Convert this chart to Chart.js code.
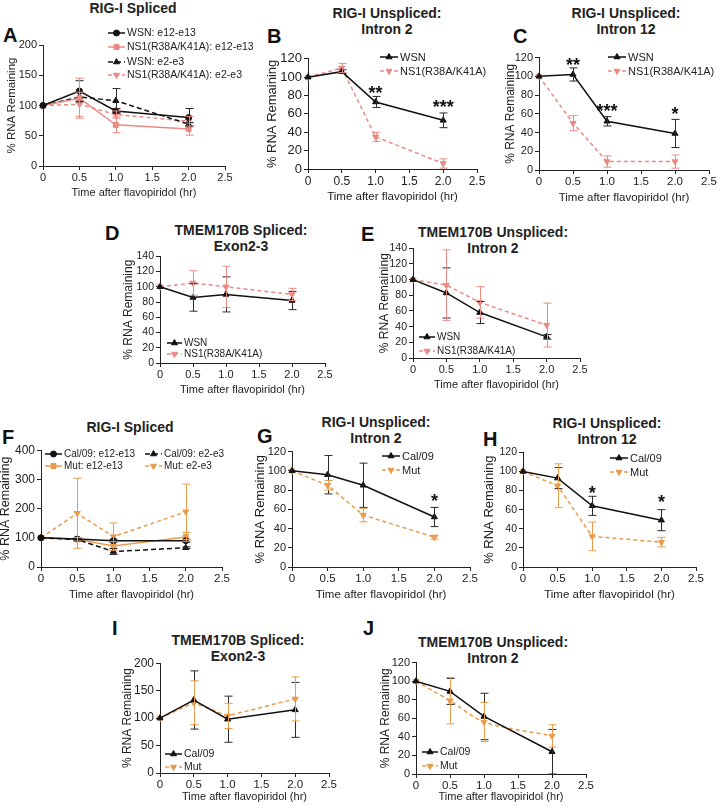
<!DOCTYPE html>
<html>
<head>
<meta charset="utf-8">
<script src="https://cdn.jsdelivr.net/npm/chart.js@4.4.1/dist/chart.umd.min.js"></script>
<style>
  body { margin: 0; background: #fff; overflow: hidden; }
  #page { position: relative; width: 720px; height: 806px; font-family: "Liberation Sans", Arial, Helvetica, sans-serif; color: #222; }
  #page canvas { position: absolute; }
  .ttl { position: absolute; font-weight: bold; font-size: 14px; line-height: 16px; text-align: center; transform: translateX(-50%); white-space: nowrap; }
  .lbl { position: absolute; font-weight: bold; font-size: 20px; line-height: 20px; color: #111; }
</style>
</head>
<body>
<div id="page">
  <div class="ttl" style="left:133px;top:0px">RIG-I Spliced</div>
  <div class="ttl" style="left:387px;top:5px">RIG-I Unspliced:<br>Intron 2</div>
  <div class="ttl" style="left:626px;top:5px">RIG-I Unspliced:<br>Intron 12</div>
  <div class="ttl" style="left:241px;top:222px">TMEM170B Spliced:<br>Exon2-3</div>
  <div class="ttl" style="left:493px;top:224px">TMEM170B Unspliced:<br>Intron 2</div>
  <div class="ttl" style="left:130px;top:419px">RIG-I Spliced</div>
  <div class="ttl" style="left:376px;top:414px">RIG-I Unspliced:<br>Intron 2</div>
  <div class="ttl" style="left:607px;top:415px">RIG-I Unspliced:<br>Intron 12</div>
  <div class="ttl" style="left:238px;top:632px">TMEM170B Spliced:<br>Exon2-3</div>
  <div class="ttl" style="left:493px;top:634px">TMEM170B Unspliced:<br>Intron 2</div>

  <div class="lbl" style="left:3px;top:25px">A</div>
  <div class="lbl" style="left:267px;top:26px">B</div>
  <div class="lbl" style="left:513px;top:26px">C</div>
  <div class="lbl" style="left:105px;top:223px">D</div>
  <div class="lbl" style="left:361px;top:224px">E</div>
  <div class="lbl" style="left:2px;top:427px">F</div>
  <div class="lbl" style="left:257px;top:426px">G</div>
  <div class="lbl" style="left:483px;top:429px">H</div>
  <div class="lbl" style="left:112px;top:618px">I</div>
  <div class="lbl" style="left:363px;top:618px">J</div>
</div>
<script>
'use strict';

// time points (hr)
const times = [0, 0.5, 1.0, 2.0];

// A: RIG-I spliced, WSN vs NS1 mutant
const aWsnE1213 = [100, 124, 91, 80];
const aWsnE1213Err = [0, 17, 4, 15];
const aNs1E1213 = [100, 112, 68, 61];
const aNs1E1213Err = [0, 33, 13, 10];
const aWsnE23 = [100, 114, 108, 69];
const aWsnE23Err = [0, 8, 20, 3];
const aNs1E23 = [100, 102, 85, 74];
const aNs1E23Err = [0, 20, 6, 8];

// B: RIG-I unspliced intron 2
const bWsn = [100, 106, 73, 53];
const bWsnErr = [0, 2, 6, 8];
const bNs1 = [100, 110, 35, 6];
const bNs1Err = [0, 5, 5, 5];
const bStars = [{x: 1.0, y: 87, t: '**'}, {x: 2.0, y: 72, t: '***'}];

// C: RIG-I unspliced intron 12
const cWsn = [100, 102, 52, 39];
const cWsnErr = [0, 7, 5, 15];
const cNs1 = [100, 50, 9, 9];
const cNs1Err = [0, 8, 6, 7];
const cStars = [{x: 0.5, y: 116, t: '**'}, {x: 1.0, y: 67, t: '***'}, {x: 2.0, y: 64, t: '*'}];

// D: TMEM170B spliced exon2-3
const dWsn = [100, 86, 90, 82];
const dWsnErr = [0, 18, 23, 12];
const dNs1 = [100, 105, 100, 90];
const dNs1Err = [0, 16, 27, 8];

// E: TMEM170B unspliced intron 2
const eWsn = [100, 83, 58, 27];
const eWsnErr = [0, 32, 14, 3];
const eNs1 = [100, 93, 71, 42];
const eNs1Err = [0, 45, 20, 28];

// F: RIG-I spliced, Cal/09 vs Mut
const fCalE1213 = [100, 96, 90, 90];
const fCalE1213Err = [0, 5, 5, 5];
const fCalE23 = [100, 94, 53, 66];
const fCalE23Err = [0, 4, 10, 3];
const fMutE1213 = [100, 95, 72, 103];
const fMutE1213Err = [0, 6, 15, 15];
const fMutE23 = [100, 184, 104, 189];
const fMutE23Err = [0, 120, 47, 95];

// G: RIG-I unspliced intron 2
const gCal = [100, 96, 85, 52];
const gCalErr = [0, 20, 23, 10];
const gMut = [100, 85, 54, 31];
const gMutErr = [0, 5, 7, 2];
const gStars = [{x: 2.0, y: 73, t: '*'}];

// H: RIG-I unspliced intron 12
const hCal = [100, 93, 64, 49];
const hCalErr = [0, 11, 10, 11];
const hMut = [100, 85, 32, 26];
const hMutErr = [0, 23, 15, 5];
const hStars = [{x: 1.0, y: 82, t: '*'}, {x: 2.0, y: 72, t: '*'}];

// I: TMEM170B spliced exon2-3
const iCal = [100, 133, 98, 115];
const iCalErr = [0, 53, 42, 50];
const iMut = [100, 128, 104, 135];
const iMutErr = [0, 40, 23, 40];

// J: TMEM170B unspliced intron 2
const jCal = [100, 89, 62, 24];
const jCalErr = [0, 14, 25, 24];
const jMut = [100, 79, 56, 41];
const jMutErr = [0, 25, 21, 12];

const BLACK = '#111111';
const SALMON = '#ea8a85';
const ORANGE = '#e99c4c';
const FONT = '"Liberation Sans", Arial, Helvetica, sans-serif';

const page = document.getElementById('page');

function series(label, values, errs, st) {
  return {
    label: label,
    err: errs,
    errColor: st.color === BLACK ? '#2a2a2a' : st.color,
    data: times.map((t, i) => ({x: t, y: values[i]})),
    borderColor: st.color,
    backgroundColor: st.color,
    borderWidth: 1.5,
    borderDash: st.dash || [],
    pointStyle: st.point,
    pointRadius: st.r || 3,
    pointRotation: st.rot || 0,
    pointBorderWidth: 1,
    pointHoverRadius: 0,
    tension: st.tension || 0,
    clip: false,
  };
}

function marker(ctx, ds, x, y) {
  ctx.fillStyle = ds.backgroundColor;
  ctx.strokeStyle = ds.borderColor;
  ctx.lineWidth = 1;
  Chart.helpers.drawPoint(ctx, {pointStyle: ds.pointStyle, rotation: ds.pointRotation, radius: ds.pointRadius, borderWidth: 1}, x, y);
}

const errorBars = {
  id: 'errorBars',
  afterDatasetsDraw(chart) {
    const ctx = chart.ctx, xs = chart.scales.x, ys = chart.scales.y;
    chart.data.datasets.forEach((ds) => {
      if (!ds.err) return;
      ctx.save();
      ctx.strokeStyle = ds.errColor;
      ctx.lineWidth = 1;
      ds.data.forEach((pt, i) => {
        const e = ds.err[i];
        if (!e) return;
        const px = Math.round(xs.getPixelForValue(pt.x)) + 0.5;
        const top = ys.getPixelForValue(pt.y + e);
        const bot = ys.getPixelForValue(pt.y - e);
        ctx.beginPath();
        ctx.moveTo(px, top); ctx.lineTo(px, bot);
        ctx.moveTo(px - 4, top); ctx.lineTo(px + 4, top);
        ctx.moveTo(px - 4, bot); ctx.lineTo(px + 4, bot);
        ctx.stroke();
      });
      ctx.restore();
    });
  }
};

const stars = {
  id: 'stars',
  afterDraw(chart, args, o) {
    if (!o.items) return;
    const ctx = chart.ctx;
    ctx.save();
    ctx.fillStyle = BLACK;
    ctx.font = 'bold 18px ' + FONT;
    ctx.textAlign = 'center';
    ctx.textBaseline = 'alphabetic';
    o.items.forEach((s) => {
      ctx.fillText(s.t, chart.scales.x.getPixelForValue(s.x), chart.scales.y.getPixelForValue(s.y) + 10);
    });
    ctx.restore();
  }
};

const legendBox = {
  id: 'legendBox',
  afterDraw(chart, args, o) {
    if (!o.items) return;
    const ctx = chart.ctx;
    o.items.forEach((it) => {
      const ds = chart.data.datasets[it.i];
      const y = it.y - o.oy, x0 = it.x0 - o.ox, x1 = it.x1 - o.ox;
      ctx.save();
      ctx.strokeStyle = ds.borderColor;
      ctx.lineWidth = 1.5;
      ctx.setLineDash(ds.borderDash);
      ctx.beginPath(); ctx.moveTo(x0, y); ctx.lineTo(x1, y); ctx.stroke();
      ctx.setLineDash([]);
      marker(ctx, ds, (x0 + x1) / 2, y);
      ctx.fillStyle = '#222';
      ctx.font = o.size + 'px ' + FONT;
      ctx.textAlign = 'left';
      ctx.textBaseline = 'middle';
      ctx.fillText(ds.label, it.tx - o.ox, y + 0.5);
      ctx.restore();
    });
  }
};

function makePanel(p) {
  const W = Math.round(p.yDist + p.ySize * 0.6);
  const H = Math.round(p.xDist + p.xSize * 0.6);
  const padT = p.padT || 8, padR = p.padR || 12;
  const w = W + (p.x25 - p.x0) + padR;
  const h = padT + (p.yBot - p.yTop) + H;
  const left = p.x0 - W, top = p.yTop - padT;
  const cv = document.createElement('canvas');
  cv.width = w; cv.height = h;
  cv.style.left = left + 'px'; cv.style.top = top + 'px';
  cv.style.width = w + 'px'; cv.style.height = h + 'px';
  page.appendChild(cv);

  new Chart(cv, {
    type: 'line',
    data: {datasets: p.datasets},
    plugins: [errorBars, stars, legendBox],
    options: {
      responsive: false,
      animation: false,
      devicePixelRatio: 1,
      layout: {padding: {top: padT, right: padR, left: 0, bottom: 0}},
      plugins: {
        legend: {display: false},
        tooltip: {enabled: false},
        stars: {items: p.stars || null},
        legendBox: {items: p.legend, ox: left, oy: top, size: p.legendSize},
      },
      scales: {
        x: {
          type: 'linear', min: 0, max: 2.5,
          ticks: {stepSize: 0.5, color: '#222', font: {size: p.xTickSize || p.tickSize, family: FONT}, padding: 1, maxRotation: 0, autoSkip: false,
            callback: (v) => (v === 0 ? '0' : v.toFixed(1))},
          grid: {drawOnChartArea: false, tickLength: 4, color: '#222'},
          border: {color: '#222', width: 1},
          title: {display: true, text: 'Time after flavopiridol (hr)', color: '#222', font: {size: p.xSize, family: FONT}, padding: 0},
          afterFit: (s) => { s.height = H; },
        },
        y: {
          min: 0, max: p.yMax,
          ticks: {stepSize: p.yStep, color: '#222', font: {size: p.tickSize, family: FONT}, padding: 2, autoSkip: false},
          grid: {drawOnChartArea: false, tickLength: 4, color: '#222'},
          border: {color: '#222', width: 1},
          title: {display: true, text: '% RNA Remaining', color: '#222', font: {size: p.ySize, family: FONT}, padding: 0},
          afterFit: (s) => { s.width = W; },
        },
      },
    },
  });
}

const blackCircle = {color: BLACK, point: 'circle', r: 3};
const blackTri = {color: BLACK, point: 'triangle', r: 3.5};
const blackTriDash = {color: BLACK, point: 'triangle', r: 3.5, dash: [5, 3]};
const salmonRect = {color: SALMON, point: 'rect', r: 3.5};
const salmonDown = {color: SALMON, point: 'triangle', rot: 180, r: 3.5, dash: [4, 3]};
const orangeRect = {color: ORANGE, point: 'rect', r: 3.5};
const orangeDown = {color: ORANGE, point: 'triangle', rot: 180, r: 3.5, dash: [4, 3]};

// A
makePanel({
  x0: 43, x25: 225, yTop: 45, yBot: 166, yMax: 200, yStep: 50,
  tickSize: 11, ySize: 11.5, xSize: 11, legendSize: 10.5, yDist: 31, xDist: 27, padT: 20, padR: 60,
  datasets: [
    series('WSN: e12-e13', aWsnE1213, aWsnE1213Err, blackCircle),
    series('NS1(R38A/K41A): e12-e13', aNs1E1213, aNs1E1213Err, salmonRect),
    series('WSN: e2-e3', aWsnE23, aWsnE23Err, blackTriDash),
    series('NS1(R38A/K41A): e2-e3', aNs1E23, aNs1E23Err, salmonDown),
  ],
  legend: [
    {i: 0, x0: 108, x1: 125, tx: 127, y: 33},
    {i: 1, x0: 108, x1: 125, tx: 127, y: 47},
    {i: 2, x0: 108, x1: 125, tx: 127, y: 62},
    {i: 3, x0: 108, x1: 125, tx: 127, y: 75},
  ],
});

// B
makePanel({
  x0: 308, x25: 477, yTop: 57, yBot: 169, yMax: 120, yStep: 20,
  tickSize: 13, xTickSize: 12, ySize: 13, xSize: 11.5, legendSize: 11, yDist: 35, xDist: 28, padR: 30,
  datasets: [
    series('WSN', bWsn, bWsnErr, blackTri),
    series('NS1(R38A/K41A)', bNs1, bNs1Err, salmonDown),
  ],
  stars: bStars,
  legend: [
    {i: 0, x0: 380, x1: 398, tx: 400, y: 57},
    {i: 1, x0: 380, x1: 398, tx: 400, y: 71},
  ],
});

// C
makePanel({
  x0: 539, x25: 709, yTop: 57, yBot: 170, yMax: 120, yStep: 20,
  tickSize: 11, xTickSize: 11.5, ySize: 12, xSize: 11.5, legendSize: 11, yDist: 29, xDist: 28, padR: 14,
  datasets: [
    series('WSN', cWsn, cWsnErr, blackTri),
    series('NS1(R38A/K41A)', cNs1, cNs1Err, salmonDown),
  ],
  stars: cStars,
  legend: [
    {i: 0, x0: 608, x1: 626, tx: 628, y: 57},
    {i: 1, x0: 608, x1: 626, tx: 628, y: 71},
  ],
});

// D
makePanel({
  x0: 160, x25: 325, yTop: 256, yBot: 363, yMax: 140, yStep: 20,
  tickSize: 10.5, xTickSize: 11, ySize: 12, xSize: 11, legendSize: 10, yDist: 32, xDist: 27,
  datasets: [
    series('WSN', dWsn, dWsnErr, blackTri),
    series('NS1(R38A/K41A)', dNs1, dNs1Err, salmonDown),
  ],
  legend: [
    {i: 0, x0: 167, x1: 182, tx: 184, y: 343},
    {i: 1, x0: 167, x1: 182, tx: 184, y: 354},
  ],
});

// E
makePanel({
  x0: 413, x25: 580, yTop: 248, yBot: 358, yMax: 140, yStep: 20,
  tickSize: 10.5, xTickSize: 11, ySize: 12, xSize: 11, legendSize: 10, yDist: 29, xDist: 27,
  datasets: [
    series('WSN', eWsn, eWsnErr, blackTri),
    series('NS1(R38A/K41A)', eNs1, eNs1Err, salmonDown),
  ],
  legend: [
    {i: 0, x0: 419, x1: 435, tx: 437, y: 337},
    {i: 1, x0: 419, x1: 435, tx: 437, y: 351},
  ],
});

// F
makePanel({
  x0: 41, x25: 222, yTop: 449, yBot: 567, yMax: 400, yStep: 100,
  tickSize: 12, xTickSize: 11.5, ySize: 12.5, xSize: 11, legendSize: 10, yDist: 35, xDist: 28,
  datasets: [
    series('Cal/09: e12-e13', fCalE1213, fCalE1213Err, blackCircle),
    series('Cal/09: e2-e3', fCalE23, fCalE23Err, blackTriDash),
    series('Mut: e12-e13', fMutE1213, fMutE1213Err, orangeRect),
    series('Mut: e2-e3', fMutE23, fMutE23Err, orangeDown),
  ],
  legend: [
    {i: 0, x0: 45, x1: 62, tx: 64, y: 454},
    {i: 2, x0: 45, x1: 62, tx: 64, y: 466},
    {i: 1, x0: 145, x1: 162, tx: 164, y: 454},
    {i: 3, x0: 145, x1: 162, tx: 164, y: 466},
  ],
});

// G
makePanel({
  x0: 292, x25: 470, yTop: 451, yBot: 567, yMax: 120, yStep: 20,
  tickSize: 11, xTickSize: 11.5, ySize: 13, xSize: 11.5, legendSize: 11, yDist: 31, xDist: 28,
  datasets: [
    series('Cal/09', gCal, gCalErr, blackTri),
    series('Mut', gMut, gMutErr, orangeDown),
  ],
  stars: gStars,
  legend: [
    {i: 0, x0: 382, x1: 400, tx: 402, y: 456},
    {i: 1, x0: 382, x1: 400, tx: 402, y: 470},
  ],
});

// H
makePanel({
  x0: 523, x25: 696, yTop: 452, yBot: 567, yMax: 120, yStep: 20,
  tickSize: 10.5, xTickSize: 11.5, ySize: 13, xSize: 11.5, legendSize: 11, yDist: 33, xDist: 28,
  datasets: [
    series('Cal/09', hCal, hCalErr, blackTri),
    series('Mut', hMut, hMutErr, orangeDown),
  ],
  stars: hStars,
  legend: [
    {i: 0, x0: 610, x1: 628, tx: 630, y: 458},
    {i: 1, x0: 610, x1: 628, tx: 630, y: 472},
  ],
});

// I
makePanel({
  x0: 160, x25: 329, yTop: 662, yBot: 773, yMax: 200, yStep: 50,
  tickSize: 12, xTickSize: 11.5, ySize: 12, xSize: 11, legendSize: 10.5, yDist: 33, xDist: 24,
  datasets: [
    series('Cal/09', iCal, iCalErr, blackTri),
    series('Mut', iMut, iMutErr, orangeDown),
  ],
  legend: [
    {i: 0, x0: 165, x1: 182, tx: 184, y: 754},
    {i: 1, x0: 165, x1: 182, tx: 184, y: 767},
  ],
});

// J
makePanel({
  x0: 416, x25: 586, yTop: 662, yBot: 774, yMax: 120, yStep: 20,
  tickSize: 11, xTickSize: 11.5, ySize: 12, xSize: 11, legendSize: 10.5, yDist: 31, xDist: 23,
  datasets: [
    series('Cal/09', jCal, jCalErr, blackTri),
    series('Mut', jMut, jMutErr, Object.assign({}, orangeDown, {tension: 0.3})),
  ],
  legend: [
    {i: 0, x0: 422, x1: 438, tx: 440, y: 752},
    {i: 1, x0: 422, x1: 438, tx: 440, y: 766},
  ],
});
</script>
</body>
</html>
